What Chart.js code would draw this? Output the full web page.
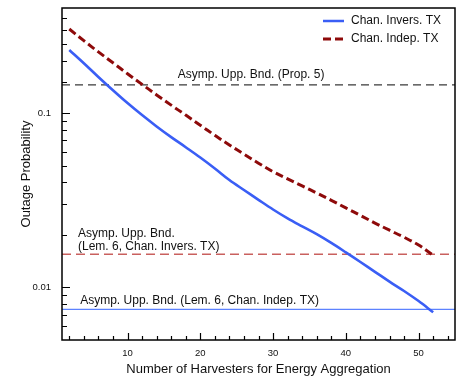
<!DOCTYPE html>
<html>
<head>
<meta charset="utf-8">
<style>
  html, body { margin: 0; padding: 0; background: #fff; }
  #wrap { width: 463px; height: 386px; }
</style>
<script src="https://cdn.jsdelivr.net/npm/chart.js@4/dist/chart.umd.min.js"></script>
</head>
<body>
<div id="wrap"><canvas id="c" width="463" height="386"></canvas></div>
<script>
// ---- data ----
const harvesters = [2,4,6,8,10,12,14,16,18,20,22,24,26,28,30,32,34,36,38,40,42,44,46,48,50,52];
const chanInvers = [0.230,0.193,0.161,0.135,0.114,0.0973,0.0838,0.0728,0.0637,0.0556,0.0481,0.0413,0.0362,0.0318,0.0280,0.0249,0.0224,0.0202,0.0180,0.0159,0.0140,0.0123,0.0108,0.00955,0.00836,0.00721];
const chanIndep  = [0.303,0.260,0.224,0.194,0.168,0.146,0.127,0.111,0.0973,0.0851,0.0745,0.0656,0.0581,0.0516,0.0461,0.0419,0.0382,0.0348,0.0316,0.0286,0.0259,0.0234,0.0213,0.0194,0.0175,0.0153];
const boundProp5 = 0.145;
const boundLem6Invers = 0.0155;
const boundLem6Indep = 0.0075;
const xRange = [1, 55];
const yRange = [0.005, 0.4];
const xMajorTicks = [10,20,30,40,50];
const xMinorTicks = [2,4,6,8,12,14,16,18,22,24,26,28,32,34,36,38,42,44,46,48,52,54];
const yMajorTicks = [0.01, 0.1];
const yMinorTicks = [0.006,0.007,0.008,0.009,0.02,0.03,0.04,0.05,0.06,0.07,0.08,0.09,0.15,0.2,0.25,0.3,0.35];
const seriesNames = ['Chan. Invers. TX', 'Chan. Indep. TX'];
const boundLabels = {
  prop5: ['Asymp. Upp. Bnd. (Prop. 5)'],
  invers: ['Asymp. Upp. Bnd.', '(Lem. 6, Chan. Invers. TX)'],
  indep: ['Asymp. Upp. Bnd. (Lem. 6, Chan. Indep. TX)']
};

const FONT = '"Liberation Sans", Arial, Helvetica, sans-serif';
const BLUE = '#3a5ef5';
const DARKRED = '#8e0a0a';
const LIGHTRED = '#c9605e';
const LIGHTBLUE = '#5c82ff';

const pts = (xs, ys) => xs.map((x, i) => ({x, y: ys[i]}));
const hline = (v) => [{x: xRange[0], y: v}, {x: xRange[1], y: v}];

const decorPlugin = {
  id: 'decor',
  afterDraw(chart) {
    const ctx = chart.ctx;
    const a = chart.chartArea;
    const xs = chart.scales.x, ys = chart.scales.y;
    ctx.save();
    // inward ticks
    ctx.strokeStyle = '#000';
    ctx.lineWidth = 1.2;
    ctx.beginPath();
    xMajorTicks.forEach(v => { const p = Math.round(xs.getPixelForValue(v)) + 0.5; ctx.moveTo(p, a.bottom); ctx.lineTo(p, a.bottom - 7); });
    xMinorTicks.forEach(v => { const p = Math.round(xs.getPixelForValue(v)) + 0.5; ctx.moveTo(p, a.bottom); ctx.lineTo(p, a.bottom - 4); });
    yMajorTicks.forEach(v => { const p = Math.round(ys.getPixelForValue(v)) + 0.5; ctx.moveTo(a.left, p); ctx.lineTo(a.left + 8, p); });
    yMinorTicks.forEach(v => { const p = Math.round(ys.getPixelForValue(v)) + 0.5; ctx.moveTo(a.left, p); ctx.lineTo(a.left + 5, p); });
    ctx.stroke();
    // frame
    ctx.lineWidth = 1.5;
    ctx.strokeRect(a.left, a.top, a.right - a.left, a.bottom - a.top);

    // bound labels
    ctx.fillStyle = '#111';
    ctx.font = '12px ' + FONT;
    ctx.textBaseline = 'middle';
    ctx.textAlign = 'left';
    let y = ys.getPixelForValue(boundProp5);
    ctx.fillText(boundLabels.prop5[0], xs.getPixelForValue(16.9), y - 10);
    y = ys.getPixelForValue(boundLem6Invers);
    ctx.fillText(boundLabels.invers[0], xs.getPixelForValue(3.2), y - 21);
    ctx.fillText(boundLabels.invers[1], xs.getPixelForValue(3.2), y - 8);
    y = ys.getPixelForValue(boundLem6Indep);
    ctx.fillText(boundLabels.indep[0], xs.getPixelForValue(3.5), y - 9);

    // legend
    const lx0 = 323, lx1 = 344, tx = 351;
    const rows = [21, 39];
    ctx.lineWidth = 2.5;
    ctx.strokeStyle = BLUE;
    ctx.beginPath(); ctx.moveTo(lx0, rows[0]); ctx.lineTo(lx1, rows[0]); ctx.stroke();
    ctx.strokeStyle = DARKRED;
    ctx.lineWidth = 3;
    ctx.setLineDash([8, 4]);
    ctx.beginPath(); ctx.moveTo(lx0, rows[1]); ctx.lineTo(lx1 + 1, rows[1]); ctx.stroke();
    ctx.setLineDash([]);
    ctx.fillStyle = '#111';
    ctx.fillText(seriesNames[0], tx, rows[0]);
    ctx.fillText(seriesNames[1], tx, rows[1]);
    ctx.restore();
  }
};

new Chart(document.getElementById('c'), {
  type: 'line',
  data: {
    datasets: [
      { label: seriesNames[0], data: pts(harvesters, chanInvers), borderColor: BLUE, borderWidth: 2.6, pointRadius: 0, tension: 0.35, order: 1 },
      { label: seriesNames[1], data: pts(harvesters, chanIndep), borderColor: DARKRED, borderWidth: 3, borderDash: [8, 4], pointRadius: 0, tension: 0.35, order: 0 },
      { label: 'prop5', data: hline(boundProp5), borderColor: '#3a3a3a', borderWidth: 1.2, borderDash: [8, 5], pointRadius: 0, order: 5 },
      { label: 'lem6invers', data: hline(boundLem6Invers), borderColor: LIGHTRED, borderWidth: 1.6, borderDash: [9, 5], pointRadius: 0, order: 5 },
      { label: 'lem6indep', data: hline(boundLem6Indep), borderColor: LIGHTBLUE, borderWidth: 1.3, pointRadius: 0, order: 5 }
    ]
  },
  options: {
    responsive: false,
    animation: false,
    devicePixelRatio: 1,
    layout: { padding: { left: 0, right: 8, top: 8, bottom: 0 } },
    plugins: { legend: { display: false }, tooltip: { enabled: false } },
    scales: {
      x: {
        type: 'linear', min: xRange[0], max: xRange[1],
        afterBuildTicks: s => { s.ticks = xMajorTicks.map(v => ({value: v})); },
        afterFit: s => { s.height = 46; s.paddingLeft = 0; s.paddingRight = 0; },
        grid: { display: false, drawTicks: false },
        border: { display: false },
        ticks: { color: '#111', font: { family: FONT, size: 9.5 }, padding: 8, maxRotation: 0, autoSkip: false },
        title: { display: true, text: 'Number of Harvesters for Energy Aggregation', color: '#111', font: { family: FONT, size: 13 }, padding: { top: 0, bottom: 9 } }
      },
      y: {
        type: 'logarithmic', min: yRange[0], max: yRange[1],
        afterBuildTicks: s => { s.ticks = yMajorTicks.map(v => ({value: v})); },
        afterFit: s => { s.width = 62; s.paddingTop = 0; s.paddingBottom = 0; },
        grid: { display: false, drawTicks: false },
        border: { display: false },
        ticks: { color: '#111', font: { family: FONT, size: 9.5 }, padding: 11, autoSkip: false, callback: v => String(v) },
        title: { display: true, text: 'Outage Probability', color: '#111', font: { family: FONT, size: 13 }, padding: { top: 19, bottom: 0 } }
      }
    }
  },
  plugins: [decorPlugin]
});
</script>
</body>
</html>
